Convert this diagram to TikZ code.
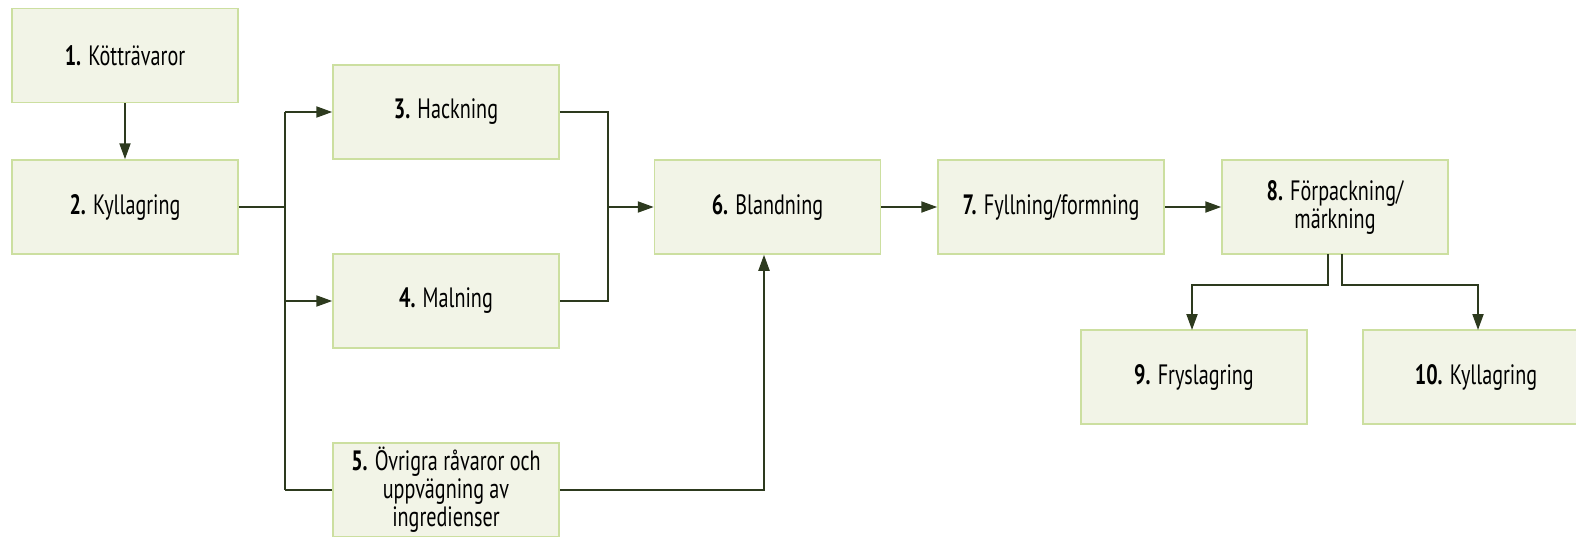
\documentclass[tikz,border=0pt]{standalone}
\usepackage{fontspec}
\setmainfont[FakeStretch=0.72]{PT Sans}
\usetikzlibrary{arrows.meta}
\definecolor{boxfill}{HTML}{F2F4E7}
\definecolor{boxline}{HTML}{CCDFA0}
\definecolor{conn}{HTML}{2D3A1E}
\tikzset{
  stepbox/.style={draw=boxline, fill=boxfill, line width=1.5pt, minimum width=226pt, minimum height=94pt, inner sep=0pt, align=center, font=\fontsize{28}{28}\selectfont},
  conn/.style={draw=conn, line width=2pt},
  arr/.style={conn, -{Triangle[length=16pt,width=11pt]}}
}
\begin{document}
\begin{tikzpicture}[x=1pt,y=-1pt]
\useasboundingbox (0,0) rectangle (1576,536);
\node[stepbox] (b1) at (125,55.5) {\textbf{1.} Kötträvaror};
\node[stepbox] (b2) at (125,207) {\textbf{2.} Kyllagring};
\node[stepbox] (b3) at (446,112) {\textbf{3.} Hackning};
\node[stepbox] (b4) at (446,301) {\textbf{4.} Malning};
\node[stepbox] (b5) at (446,490) {\textbf{5.} Övrigra råvaror och\\uppvägning av\\ingredienser};
\node[stepbox] (b6) at (767.5,207) {\textbf{6.} Blandning};
\node[stepbox] (b7) at (1051,207) {\textbf{7.} Fyllning/formning};
\node[stepbox] (b8) at (1335,207) {\textbf{8.} Förpackning/\\märkning};
\node[stepbox] (b9) at (1194,377) {\textbf{9.} Fryslagring};
\node[stepbox] (b10) at (1476,377) {\textbf{10.} Kyllagring};
\coordinate (fork) at (285,207);
\coordinate (merge) at (608,207);
\coordinate (s1) at (1328,254);
\coordinate (s2) at (1342,254);
\coordinate (t9) at (1192,330);
\coordinate (t10) at (1478,330);
\draw[arr] (b1) -- (b2);
\draw[conn] (b2.east) -- (fork);
\draw[conn] (fork |- b3.west) -- (fork |- b5.west);
\draw[arr] (fork |- b3.west) -- (b3.west);
\draw[arr] (fork |- b4.west) -- (b4.west);
\draw[conn] (fork |- b5.west) -- (b5.west);
\draw[conn] (b3.east) -| (merge) |- (b4.east);
\draw[arr] (merge) -- (b6.west);
\draw[arr] (b5.east) -| ([xshift=-3.5pt]b6.south);
\draw[arr] (b6) -- (b7);
\draw[arr] (b7) -- (b8);
\draw[arr] (s1) -- (1328,285) -| (t9);
\draw[arr] (s2) -- (1342,285) -| (t10);
\end{tikzpicture}
\end{document}
